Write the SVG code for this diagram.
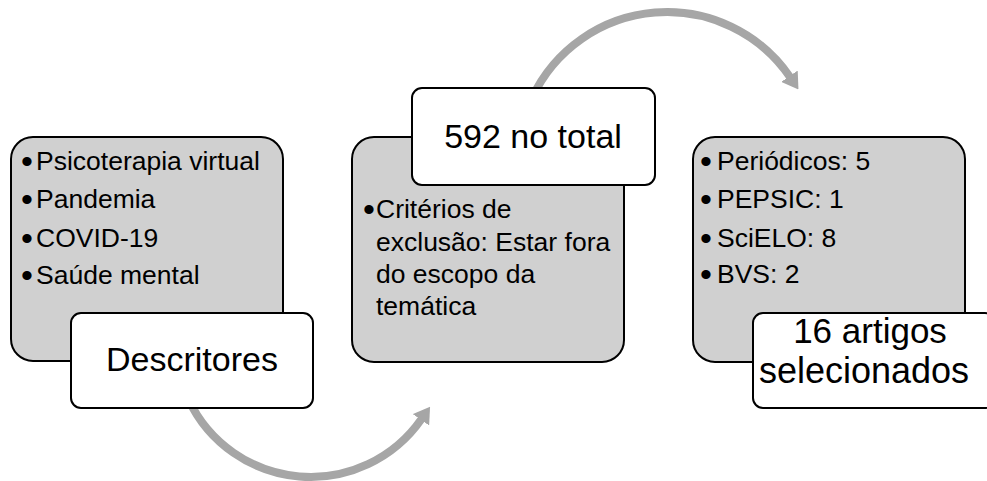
<svg xmlns="http://www.w3.org/2000/svg" width="987" height="481" viewBox="0 0 987 481">
  <style>
    .gray { fill: #d0d0d0; stroke: #000; stroke-width: 2; }
    .white { fill: #fff; stroke: #000; stroke-width: 2; }
    .arc { fill: none; stroke: #a6a6a6; stroke-width: 8; }
    .bul { font-family: "Liberation Sans", Arial, sans-serif; font-size: 26.5px; fill: #000; }
    .dot { font-family: "Liberation Sans", Arial, sans-serif; font-size: 34px; fill: #000; }
    .big { font-family: "Liberation Sans", Arial, sans-serif; fill: #000; text-anchor: middle; }
  </style>
  <defs>
    <marker id="head" markerUnits="userSpaceOnUse" viewBox="0 0 16 20" markerWidth="16" markerHeight="20" refX="1" refY="10" orient="auto">
      <path d="M0,0 L16,10 L0,20 z" fill="#a6a6a6"/>
    </marker>
  </defs>
  <rect width="987" height="481" fill="#fff"/>

  <g id="connectors">
    <path class="arc" d="M188.4,399.2 A135,135 0 0 0 421.5,419" marker-end="url(#head)"/>
    <path class="arc" d="M532,98 A149,149 0 0 1 790,77" marker-end="url(#head)"/>
  </g>

  <g id="node-descritores-list">
    <rect class="gray" x="11" y="137" width="272" height="224" rx="22"/>
    <text class="dot" x="21" y="173">•</text><text class="bul" x="36" y="170">Psicoterapia virtual</text>
    <text class="dot" x="21" y="211">•</text><text class="bul" x="36" y="208">Pandemia</text>
    <text class="dot" x="21" y="250">•</text><text class="bul" x="36" y="247">COVID-19</text>
    <text class="dot" x="21" y="287">•</text><text class="bul" x="36" y="284">Saúde mental</text>
  </g>
  <g id="node-descritores">
    <rect class="white" x="71" y="313" width="242" height="95" rx="10"/>
    <text class="big" x="192" y="371" font-size="34">Descritores</text>
  </g>

  <g id="node-criterios">
    <rect class="gray" x="352" y="137" width="272" height="225" rx="22"/>
    <text class="dot" x="363" y="221">•</text><text class="bul" x="376" y="218">Critérios de</text>
    <text class="bul" x="376" y="251">exclusão: Estar fora</text>
    <text class="bul" x="376" y="283">do escopo da</text>
    <text class="bul" x="376" y="315">temática</text>
  </g>
  <g id="node-total">
    <rect class="white" x="412" y="88" width="243" height="97" rx="10"/>
    <text class="big" x="533" y="148" font-size="34">592 no total</text>
  </g>

  <g id="node-bases">
    <rect class="gray" x="693" y="137" width="272" height="225" rx="22"/>
    <text class="dot" x="700" y="173">•</text><text class="bul" x="717" y="170">Periódicos: 5</text>
    <text class="dot" x="700" y="211">•</text><text class="bul" x="717" y="208">PEPSIC: 1</text>
    <text class="dot" x="700" y="250">•</text><text class="bul" x="717" y="247">SciELO: 8</text>
    <text class="dot" x="700" y="286">•</text><text class="bul" x="717" y="283">BVS: 2</text>
  </g>
  <g id="node-selecionados">
    <rect class="white" x="753" y="313" width="242" height="95" rx="10"/>
    <text class="big" x="870" y="343" font-size="35">16 artigos</text>
    <text class="big" x="864" y="383" font-size="36">selecionados</text>
  </g>
</svg>
